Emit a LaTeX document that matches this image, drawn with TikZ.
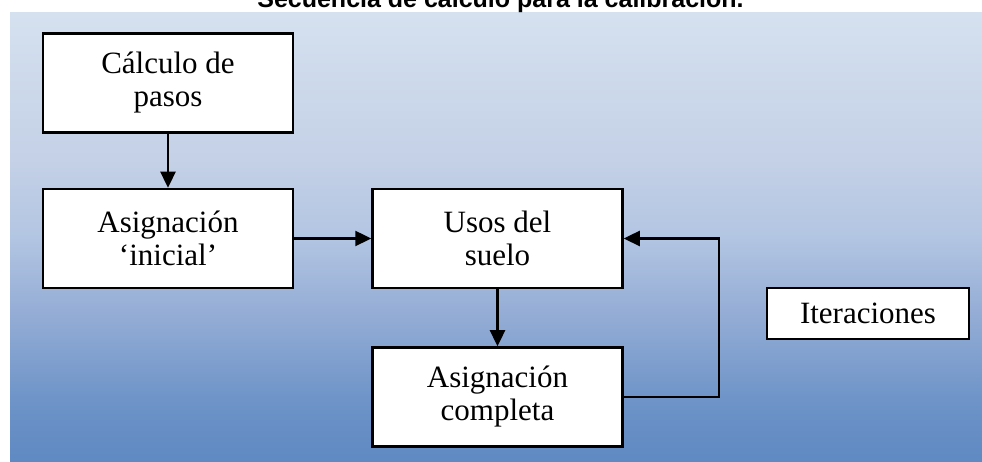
\documentclass[tikz,border=0pt]{standalone}
\usepackage{fontspec}
\setmainfont{Liberation Serif}
\newfontfamily\titlefont{Liberation Sans}
\usepackage{xcolor}
\usepackage{tikz}
\usetikzlibrary{positioning, arrows.meta}

\definecolor{fondoarriba}{RGB}{213,225,239}
\definecolor{fondoalto}{RGB}{195,208,230}
\definecolor{fondomedio}{RGB}{178,197,226}
\definecolor{fondobajo}{RGB}{150,174,214}
\definecolor{fondohondo}{RGB}{110,148,200}
\definecolor{fondoabajo}{RGB}{95,137,194}
\pgfdeclareverticalshading{fondoazul}{100bp}{color(0bp)=(fondoabajo); color(25bp)=(fondoabajo); color(32bp)=(fondohondo); color(42bp)=(fondobajo); color(50bp)=(fondomedio); color(58bp)=(fondoalto); color(75bp)=(fondoarriba); color(100bp)=(fondoarriba)}

\begin{document}
\begin{tikzpicture}[x=1pt, y=1pt,
    caja/.style={draw, line width=2.5pt, fill=white, align=center,
        minimum width=250pt, minimum height=99pt, inner sep=2pt,
        font=\fontsize{31}{33}\selectfont},
    flecha/.style={line width=2.4pt, -{Triangle[length=16pt,width=15pt]}}]
    \clip (0,0) rectangle (982,462);
    \shade[shading=fondoazul] (10,0) rectangle (982,449);
    \node[font=\titlefont\bfseries\fontsize{25}{25}\selectfont, anchor=base] (titulo) at (500.5,454) {Secuencia de cálculo para la calibración.};

    \node[caja] (calc) at (168,379) {Cálculo de\\pasos};
    \node[caja, below=54pt of calc] (inicial) {Asignación\\‘inicial’};
    \node[caja, right=77pt of inicial] (usos) {Usos del\\suelo};
    \node[caja, below=57pt of usos] (completa) {Asignación\\completa};
    \node[caja, minimum width=202pt, minimum height=51pt] (iter) at (868,148.5) {Iteraciones};

    \draw[flecha] (calc) -- (inicial);
    \draw[flecha] (inicial) -- (usos);
    \draw[flecha] (usos) -- (completa);
    \draw[flecha] (completa.east) -- ++(95pt,0) |- (usos.east);
\end{tikzpicture}
\end{document}
